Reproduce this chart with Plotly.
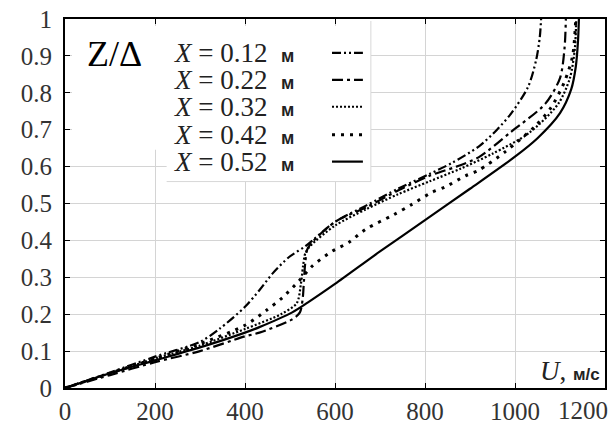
import plotly.graph_objects as go

# ---------------- data ----------------
labels = ["0.12", "0.22", "0.32", "0.42", "0.52"]

u_012 = [0, 100, 200, 300, 343, 400, 432, 461, 498, 535, 600, 670, 740, 810, 860, 920, 960, 992, 1029, 1047, 1055, 1058]
z_012 = [0, 0.042, 0.085, 0.125, 0.16, 0.22, 0.265, 0.31, 0.355, 0.385, 0.45, 0.495, 0.54, 0.58, 0.61, 0.655, 0.70, 0.745, 0.816, 0.889, 0.95, 1.0]

u_022 = [0, 100, 200, 300, 400, 432, 505, 522, 528, 531, 534, 540, 600, 670, 740, 810, 870, 919, 992, 1067, 1100, 1110, 1113]
z_022 = [0, 0.035, 0.07, 0.10, 0.14, 0.15, 0.186, 0.205, 0.24, 0.29, 0.34, 0.38, 0.45, 0.49, 0.535, 0.575, 0.60, 0.625, 0.695, 0.77, 0.84, 0.92, 1.0]

u_032 = [0, 100, 200, 300, 400, 480, 515, 524, 529, 534, 545, 600, 670, 740, 810, 880, 950, 1030, 1096, 1122, 1133, 1136]
z_032 = [0, 0.04, 0.08, 0.115, 0.16, 0.20, 0.23, 0.28, 0.33, 0.365, 0.385, 0.44, 0.485, 0.525, 0.56, 0.595, 0.635, 0.69, 0.77, 0.84, 0.92, 1.0]

u_042 = [0, 100, 200, 300, 400, 447, 483, 520, 549, 593, 631, 668, 731, 770, 815, 845, 890, 919, 978, 1045, 1080, 1110, 1128, 1135]
z_042 = [0, 0.04, 0.08, 0.12, 0.17, 0.21, 0.245, 0.29, 0.33, 0.37, 0.395, 0.43, 0.47, 0.497, 0.53, 0.545, 0.575, 0.59, 0.64, 0.71, 0.76, 0.83, 0.90, 1.0]

u_052 = [0, 100, 200, 300, 400, 432, 505, 540, 600, 700, 800, 900, 1000, 1050, 1100, 1125, 1135, 1140, 1142]
z_052 = [0, 0.04, 0.075, 0.11, 0.15, 0.165, 0.205, 0.232, 0.282, 0.37, 0.455, 0.54, 0.627, 0.677, 0.745, 0.81, 0.87, 0.94, 1.0]

xs = [u_012, u_022, u_032, u_042, u_052]
zs = [z_012, z_022, z_032, z_042, z_052]

x_ticks = [0, 200, 400, 600, 800, 1000, 1200]
x_tick_text = ["0", "200", "400", "600", "800", "1000", ""]
last_x_label = "1200"
y_ticks = [0, 0.1, 0.2, 0.3, 0.4, 0.5, 0.6, 0.7, 0.8, 0.9, 1]
y_tick_text = ["0", "0.1", "0.2", "0.3", "0.4", "0.5", "0.6", "0.7", "0.8", "0.9", "1"]

# ---------------- styles ----------------
dashes = ["9px,3px,2px,3px,2px,3px", "11px,4px,3px,4px", "2px,2px", "3px,6px", "solid"]
widths = [2.2, 2.2, 2.2, 3.0, 2.2]
SERIF = "Liberation Serif, DejaVu Serif, serif"

# plot-area geometry in pixels (for placing key/labels)
L, R, T, B = 65, 607, 19, 389
def px(x):
    return (x - L) / (R - L)
def py(y):
    return (B - y) / (B - T)

fig = go.Figure()
for i in range(5):
    fig.add_trace(go.Scatter(x=xs[i], y=zs[i], mode="lines", line_shape="spline",
                             line=dict(color="black", width=widths[i], dash=dashes[i], smoothing=0.8),
                             showlegend=False, name="X = " + labels[i] + " м"))

axis_common = dict(showline=True, linewidth=2, linecolor="black", mirror="ticks",
                   ticks="inside", ticklen=5, tickwidth=1.2, tickcolor="black",
                   showgrid=True, gridcolor="#d4d4d4", gridwidth=1, zeroline=False,
                   tickfont=dict(family=SERIF, size=25, color="#333"))

fig.update_layout(
    width=612, height=430,
    margin=dict(l=L, r=612 - R, t=T, b=430 - B),
    paper_bgcolor="white", plot_bgcolor="white",
    xaxis=dict(range=[0, 1200], tickvals=x_ticks, ticktext=x_tick_text, ticklabeloverflow="allow", **axis_common),
    yaxis=dict(range=[0, 1], tickvals=y_ticks, ticktext=y_tick_text, ticklabelstandoff=6, **axis_common),
    showlegend=False,
)

# opaque key area (hides grid), inset so the frame ticks stay visible
fig.add_shape(type="rect", xref="paper", yref="paper", x0=px(L + 7), x1=px(372), y0=py(150), y1=py(T + 7),
              fillcolor="white", line=dict(width=0), layer="above")
fig.add_shape(type="rect", xref="paper", yref="paper", x0=px(167), x1=px(372), y0=py(182), y1=py(T + 7),
              fillcolor="white", line=dict(width=0), layer="above")
fig.add_shape(type="line", xref="paper", yref="paper", x0=px(167), x1=px(372), y0=py(182), y1=py(182),
              line=dict(color="#d8d8d8", width=1), layer="above")
fig.add_shape(type="line", xref="paper", yref="paper", x0=px(372), x1=px(372), y0=py(182), y1=py(T + 2),
              line=dict(color="#d8d8d8", width=1), layer="above")

# Z/Δ label
fig.add_annotation(xref="paper", yref="paper", x=px(85), y=py(54), xanchor="left", yanchor="middle",
                   text="Z/Δ", showarrow=False, font=dict(family=SERIF, size=36, color="black"))

# key entries (text then line sample, as in the original)
row_y = [53, 80, 107, 135, 162]
for i in range(5):
    fig.add_annotation(xref="paper", yref="paper", x=px(172), y=py(row_y[i]), xanchor="left", yanchor="middle",
                       text="<i>X</i> = " + labels[i] + "  <span style='font-family:Liberation Sans, Arial, sans-serif;font-size:18px;font-weight:bold'>м</span>",
                       showarrow=False, font=dict(family=SERIF, size=27, color="#222"))
    fig.add_shape(type="line", xref="paper", yref="paper", x0=px(333), x1=px(364), y0=py(row_y[i]), y1=py(row_y[i]),
                  line=dict(color="black", width=widths[i], dash=dashes[i]), layer="above")

# axis label inside plot
fig.add_annotation(xref="paper", yref="paper", x=px(604), y=py(372), xanchor="right", yanchor="middle",
                   text="<i>U</i>, <span style='font-family:Liberation Sans, Arial, sans-serif;font-size:17px;font-weight:bold'>м/с</span>",
                   showarrow=False, font=dict(family=SERIF, size=27, color="#222"))

# last x tick label, flush with the right edge as in the original
fig.add_annotation(xref="paper", yref="paper", x=px(612), y=py(412), xanchor="right", yanchor="middle",
                   text=last_x_label, showarrow=False, font=dict(family=SERIF, size=25, color="#333"))

fig.write_html("out.html")
